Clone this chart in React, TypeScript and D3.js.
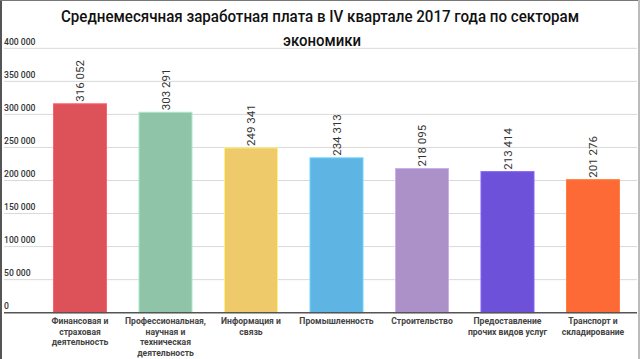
import React from "react";
import * as d3 from "d3";

const categories: string[][] = [
  ["Финансовая и", "страховая", "деятельность"],
  ["Профессиональная,", "научная и", "техническая", "деятельность"],
  ["Информация и", "связь"],
  ["Промышленность"],
  ["Строительство"],
  ["Предоставление", "прочих видов услуг"],
  ["Транспорт и", "складирование"],
];
const values: number[] = [316052, 303291, 249341, 234313, 218095, 213414, 201276];
const colors: string[] = ["#DC5258", "#8FC4A8", "#EFCA6A", "#5EB5E4", "#AC91C8", "#6D52D9", "#FE6A35"];
const yTicks: number[] = [0, 50000, 100000, 150000, 200000, 250000, 300000, 350000, 400000];
const titleLines: string[] = ["Среднемесячная заработная плата в IV квартале 2017 года по секторам", "экономики"];

const W = 640;
const H = 359;
const fmt = (v: number) => d3.format(",")(v).replace(/,/g, " ");

export default function App() {
  const x = d3
    .scaleBand<number>()
    .domain(values.map((_, i) => i))
    .range([37.25, 635.75])
    .paddingInner(0.38)
    .paddingOuter(0.19);
  const y = d3.scaleLinear().domain([0, 400000]).range([312.7, 48.3]);
  const font = "Roboto, 'Noto Sans', sans-serif";

  return (
    <svg
      width={W}
      height={H}
      style={{ position: "fixed", left: 0, top: 0, background: "#fff" }}
      fontFamily={font}
    >
      <rect x={0} y={0} width={W} height={H} fill="#fff" />
      {/* title */}
      <text x={320} y={21.5} textAnchor="middle" fontSize={16} fontWeight={500} fill="#111" textLength={518} lengthAdjust="spacingAndGlyphs">
        {titleLines[0]}
      </text>
      <text x={322} y={45.5} textAnchor="middle" fontSize={16} fontWeight={500} fill="#111" textLength={78} lengthAdjust="spacingAndGlyphs">
        {titleLines[1]}
      </text>
      {/* gridlines & y labels */}
      {yTicks.map((t) => (
        <g key={t}>
          {t > 0 && <line x1={4} x2={637} y1={y(t)} y2={y(t)} stroke="#d9d9d9" strokeWidth={1} />}
          <text x={4} y={y(t) - 3.5} fontSize={8.6} fontWeight={500} fill="#333">
            {fmt(t)}
          </text>
        </g>
      ))}
      {/* bars */}
      {values.map((v, i) => (
        <rect
          key={i}
          x={x(i)!}
          y={y(v)}
          width={x.bandwidth()}
          height={y(0) - y(v)}
          fill={colors[i]}
          stroke={d3.color(colors[i])!.brighter(0.5).formatHex()}
          strokeWidth={1}
        />
      ))}
      {/* value labels */}
      {values.map((v, i) => {
        const cx = x(i)! + x.bandwidth() / 2;
        const yy = y(v) - 2;
        return (
          <text key={i} transform={`translate(${cx},${yy}) rotate(-90)`} dy="0.36em" fontSize={11.5} fill="#333">
            {fmt(v)}
          </text>
        );
      })}
      {/* axis */}
      <line x1={4} x2={637} y1={y(0)} y2={y(0)} stroke="#555" strokeWidth={1.5} />
      {/* category labels */}
      {categories.map((lines, i) => {
        const cx = x(i)! + x.bandwidth() / 2;
        return (
          <text key={i} textAnchor="middle" fontSize={8.6} fontWeight={700} fill="#444">
            {lines.map((l, j) => (
              <tspan key={j} x={cx} y={324 + j * 10.7}>
                {l}
              </tspan>
            ))}
          </text>
        );
      })}
      {/* frame */}
      <line x1={1} x2={1} y1={0} y2={H} stroke="#555" strokeWidth={2} />
      <line x1={0} x2={W} y1={0.5} y2={0.5} stroke="#777" strokeWidth={1} />
      <line x1={639} x2={639} y1={0} y2={H} stroke="#bbb" strokeWidth={2} />
    </svg>
  );
}
